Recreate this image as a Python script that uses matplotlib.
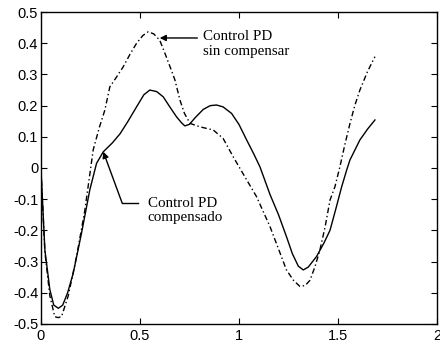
import numpy as np
import matplotlib.pyplot as plt

# Control PD compensado (solid)
t_comp = [0.00, 0.02, 0.045, 0.065, 0.088, 0.11, 0.135, 0.163, 0.205, 0.247, 0.281,
          0.315, 0.36, 0.40, 0.44, 0.483, 0.52, 0.55, 0.585, 0.618, 0.652, 0.685,
          0.71, 0.727, 0.75, 0.78, 0.82, 0.855, 0.887, 0.92, 0.963, 1.00, 1.039,
          1.075, 1.106, 1.157, 1.20, 1.24, 1.27, 1.30, 1.325, 1.35, 1.392, 1.43,
          1.46, 1.49, 1.519, 1.545, 1.561, 1.611, 1.65, 1.687]
y_comp = [0.00, -0.263, -0.39, -0.44, -0.45, -0.44, -0.40, -0.338, -0.209, -0.07, 0.015,
          0.052, 0.08, 0.11, 0.15, 0.196, 0.235, 0.25, 0.245, 0.228, 0.195, 0.164,
          0.145, 0.135, 0.14, 0.162, 0.188, 0.20, 0.202, 0.196, 0.175, 0.14, 0.09,
          0.045, 0.004, -0.085, -0.15, -0.22, -0.275, -0.315, -0.327, -0.318, -0.284, -0.24,
          -0.20, -0.13, -0.06, -0.005, 0.026, 0.09, 0.125, 0.154]

# Control PD sin compensar (dash-dot)
t_sin = [0.00, 0.02, 0.045, 0.07, 0.087, 0.104, 0.138, 0.18, 0.222, 0.264, 0.295,
         0.323, 0.348, 0.38, 0.416, 0.45, 0.483, 0.515, 0.542, 0.57, 0.60, 0.625,
         0.652, 0.677, 0.702, 0.725, 0.753, 0.803, 0.87, 0.92, 0.971, 1.039, 1.089,
         1.157, 1.20, 1.24, 1.275, 1.308, 1.335, 1.359, 1.385, 1.409, 1.435, 1.46,
         1.485, 1.51, 1.535, 1.561, 1.585, 1.611, 1.65, 1.687]
y_sin = [0.00, -0.27, -0.41, -0.477, -0.48, -0.477, -0.41, -0.284, -0.135, 0.058, 0.13,
         0.186, 0.26, 0.29, 0.325, 0.365, 0.40, 0.425, 0.437, 0.43, 0.41, 0.37,
         0.325, 0.282, 0.218, 0.175, 0.143, 0.132, 0.122, 0.095, 0.036, -0.038, -0.092,
         -0.188, -0.26, -0.327, -0.36, -0.38, -0.377, -0.36, -0.315, -0.263, -0.19, -0.103,
         -0.06, 0.004, 0.075, 0.143, 0.20, 0.25, 0.31, 0.357]

xticks = [0, 0.5, 1, 1.5, 2]
xticklabels = ['0', '0.5', '1', '1.5', '2']
yticks = [-0.5, -0.4, -0.3, -0.2, -0.1, 0, 0.1, 0.2, 0.3, 0.4, 0.5]
yticklabels = ['-0.5', '-0.4', '-0.3', '-0.2', '-0.1', '0', '0.1', '0.2', '0.3', '0.4', '0.5']

fig = plt.figure(figsize=(4.4, 3.46), dpi=100)
ax = fig.add_axes([0.093, 0.064, 0.9, 0.901])

ax.plot(t_comp, y_comp, color='black', lw=1.0)
ax.plot(t_sin, y_sin, color='black', lw=1.0, linestyle=(0, (4, 2, 1, 2)))

ax.set_xlim(0, 2)
ax.set_ylim(-0.5, 0.5)
ax.set_xticks(xticks)
ax.set_xticklabels(xticklabels)
ax.set_yticks(yticks)
ax.set_yticklabels(yticklabels)
ax.tick_params(direction='in', top=True, right=True, length=4, width=0.8,
               labelsize=10.5)
ax.tick_params(axis='x', pad=4)
ax.tick_params(axis='y', pad=2)
for lab in ax.get_xticklabels() + ax.get_yticklabels():
    lab.set_fontfamily('Liberation Sans')
for s in ax.spines.values():
    s.set_linewidth(1.0)

# annotations
txtfont = dict(family='Liberation Serif', size=10.8)
ax.text(0.818, 0.397, 'Control PD\nsin compensar', va='center', ha='left',
        linespacing=1.15, **txtfont)
ax.annotate('', xy=(0.60, 0.417), xytext=(0.79, 0.417),
            arrowprops=dict(arrowstyle='-|>', color='black', lw=1.0,
                            mutation_scale=9, shrinkA=0, shrinkB=0))

ax.text(0.54, -0.135, 'Control PD\ncompensado', va='center', ha='left',
        linespacing=1.1, **txtfont)
ax.plot([0.41, 0.49], [-0.112, -0.112], color='black', lw=1.0)
ax.annotate('', xy=(0.315, 0.052), xytext=(0.41, -0.112),
            arrowprops=dict(arrowstyle='-|>', color='black', lw=1.0,
                            mutation_scale=9, shrinkA=0, shrinkB=0))

fig.savefig('out.png', dpi=100)
